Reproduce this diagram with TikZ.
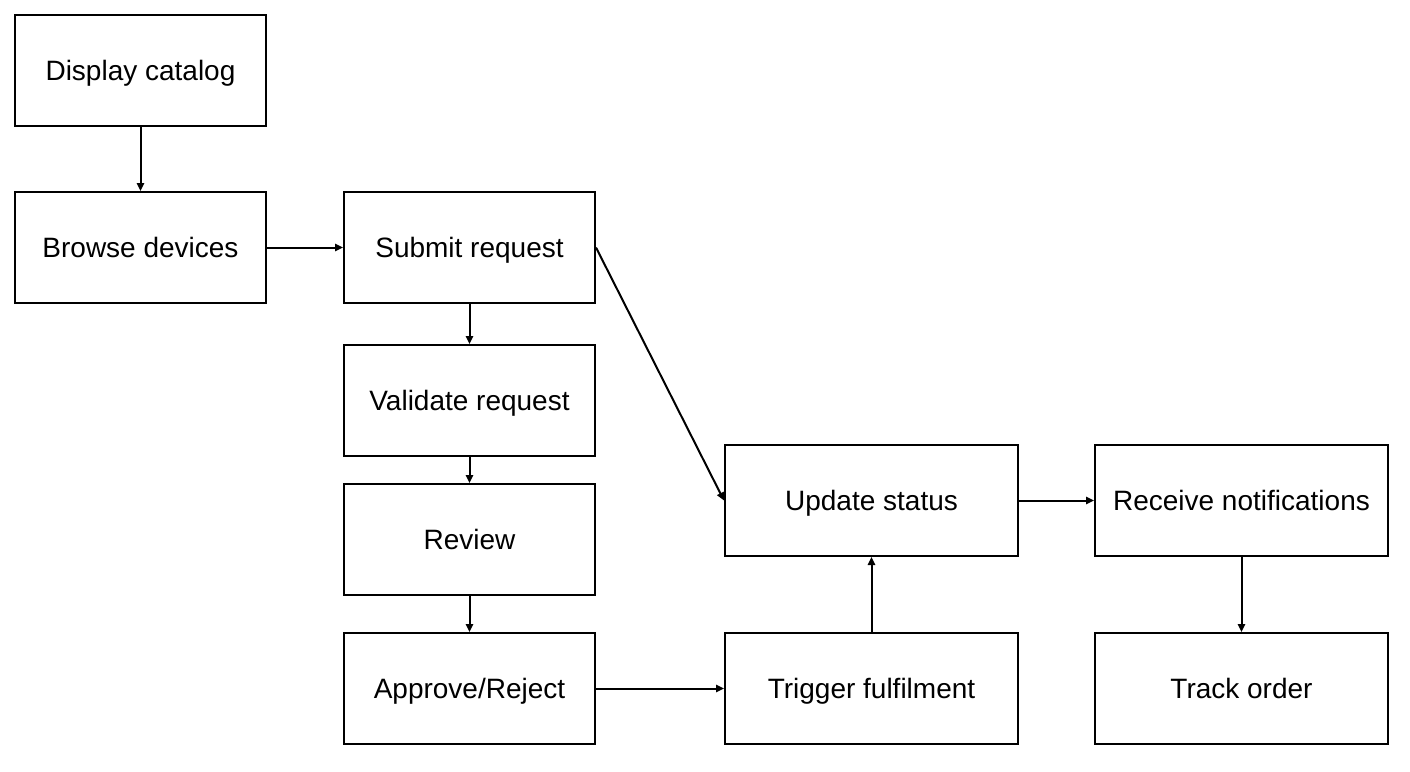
\documentclass[tikz,border=0pt]{standalone}
\usepackage{fontspec}
\setmainfont{Liberation Sans}
\usetikzlibrary{arrows.meta}
\tikzset{
    %Define style for boxes
    stepbox/.style={
           rectangle,
           draw=black, line width=1pt,
           minimum width=125.5pt,
           minimum height=55.5pt,
           text height=12pt,
           text depth=2pt,
           font=\fontsize{14}{16}\selectfont,
           align=center},
 %
    widebox/.style={
           stepbox,
           minimum width=146.5pt},
%
    % Define arrow style
    arrow/.style={
           -{Triangle[length=4pt,width=3.6pt]},
           line width=1pt}
}
\begin{document}
\begin{tikzpicture}[x=0.5pt,y=-0.5pt]
  \useasboundingbox (0,0) rectangle (1410,772);
  % left column
  \node[stepbox] (catalog) at (140.5,70) {Display catalog};
  \node[stepbox] (browse) at (140.5,247.5) {Browse devices};
  % middle column
  \node[stepbox] (submit) at (469.5,247.5) {Submit request};
  \node[stepbox] (validate) at (469.5,400.5) {Validate request};
  \node[stepbox] (review) at (469.5,539.5) {Review};
  \node[stepbox] (approve) at (469.5,688.5) {Approve/Reject};
  % right side
  \node[widebox] (status) at (871.5,500.5) {Update status};
  \node[widebox] (trigger) at (871.5,688.5) {Trigger fulfilment};
  \node[widebox] (notify) at (1241.5,500.5) {Receive notifications};
  \node[widebox] (track) at (1241.5,688.5) {Track order};
  % connectors
  \draw[arrow] (catalog) -- (browse);
  \draw[arrow] (browse) -- (submit);
  \draw[arrow] (submit) -- (validate);
  \draw[arrow] (validate) -- (review);
  \draw[arrow] (review) -- (approve);
  \draw[arrow] (approve) -- (trigger);
  \draw[arrow] (trigger) -- (status);
  \draw[arrow] (status) -- (notify);
  \draw[arrow] (notify) -- (track);
  \draw[arrow] (submit.east) -- (status.west);
\end{tikzpicture}
\end{document}
